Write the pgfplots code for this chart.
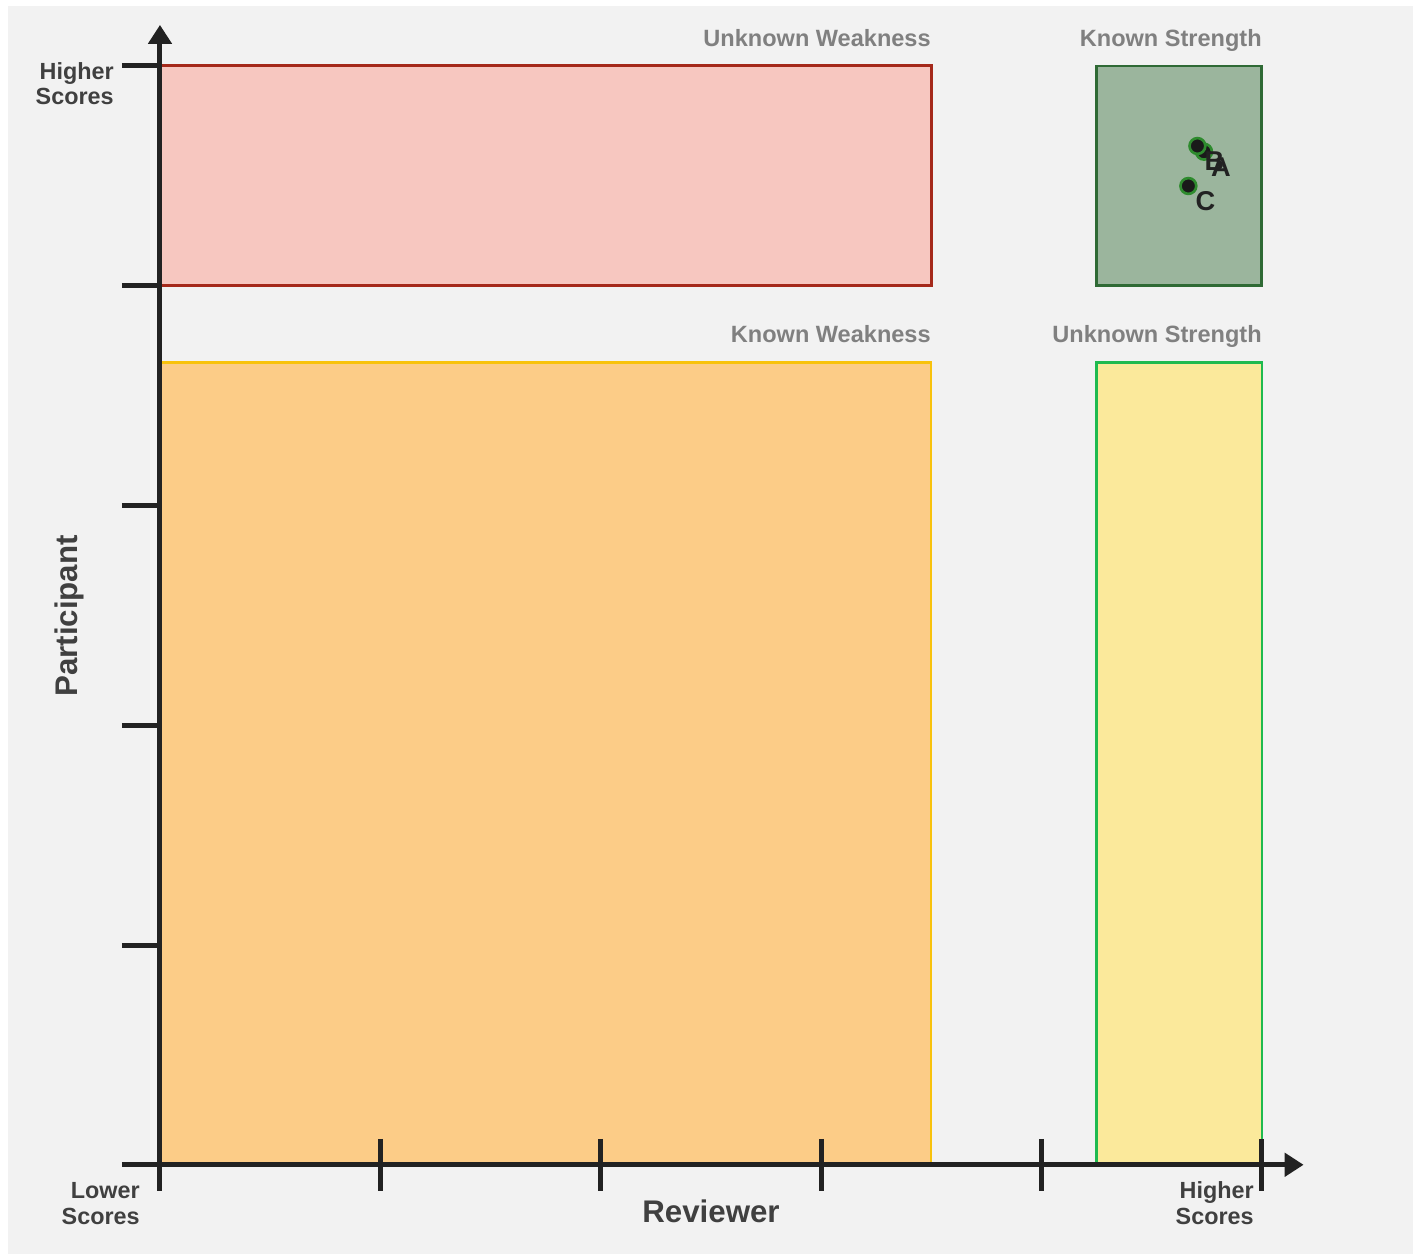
\documentclass[border=0pt]{standalone}
\usepackage{fontspec}
\setmainfont{Liberation Sans}
\usepackage{pgfplots}
\pgfplotsset{compat=1.18}
\usetikzlibrary{arrows.meta}
\definecolor{bg}{HTML}{F2F2F2}
\definecolor{redfill}{HTML}{F7C7C0}
\definecolor{reddraw}{HTML}{A5291B}
\definecolor{greenfill}{HTML}{9BB59D}
\definecolor{greendraw}{HTML}{2F6A35}
\definecolor{orangefill}{HTML}{FCCC87}
\definecolor{orangedraw}{HTML}{F8C20C}
\definecolor{yellowfill}{HTML}{FBE99B}
\definecolor{yellowdraw}{HTML}{1FBA4F}
\definecolor{axisc}{HTML}{222222}
\definecolor{qlab}{HTML}{808080}
\definecolor{tlab}{HTML}{404040}
\definecolor{ptfill}{HTML}{1A1A1A}
\definecolor{ptdraw}{HTML}{2E8B2E}
\begin{document}
\begin{tikzpicture}
\begin{scope}[x=0.02cm,y=-0.02cm]
\fill[white] (0,0) rectangle (1423,1255);
\fill[bg] (8,6) rectangle (1413,1254);
\end{scope}
\begin{axis}[
  at={(3.2cm,-23.3cm)}, anchor=south west, scale only axis,
  width=22.04cm, height=21.98cm,
  xmin=0, xmax=5, ymin=0, ymax=5,
  clip=false,
  axis line style={draw=none},
  xmajorticks=false,
  ytick={0,1,2,3,4,5}, yticklabels={},
  ytick pos=left,
  tick align=outside,
  major tick length=0.76cm,
  tick style={line width=0.1cm, color=axisc, line cap=butt},
]
% quadrant rectangles
\addplot[fill=redfill, draw=reddraw, line width=0.06cm] coordinates {(0,4) (3.5,4) (3.5,5) (0,5)} -- cycle;
\addplot[fill=greenfill, draw=greendraw, line width=0.055cm] coordinates {(4.25,4) (5,4) (5,5) (4.25,5)} -- cycle;
\addplot[fill=orangefill, draw=orangedraw, line width=0.05cm] coordinates {(0,0) (3.5,0) (3.5,3.65) (0,3.65)} -- cycle;
\addplot[fill=yellowfill, draw=yellowdraw, line width=0.05cm] coordinates {(4.25,0) (5,0) (5,3.65) (4.25,3.65)} -- cycle;
% axis lines
\draw[line width=0.1cm, color=axisc, -{Triangle[length=0.38cm,width=0.46cm]}] (axis cs:0,0) -- (axis cs:5.19,0);
\draw[line width=0.1cm, color=axisc, -{Triangle[length=0.38cm,width=0.46cm]}] (axis cs:0,0) -- (axis cs:0,5.187);
% x ticks (centred on the axis line)
\pgfplotsinvokeforeach{0,1,2,3,4,5}{
  \draw[line width=0.1cm, color=axisc] (axis cs:#1,0) ++(0,0.52cm) -- ++(0,-1.04cm);
}
% points
\addplot[only marks, mark=*, mark size=4.5pt,
  mark options={fill=ptfill, draw=ptdraw, line width=1.5pt},
  point meta=explicit symbolic,
  nodes near coords,
  nodes near coords style={anchor=center, xshift=0.34cm, yshift=-0.30cm,
    font=\bfseries\fontsize{15.5}{18}\selectfont, text=axisc, inner sep=0pt},
] table[meta=label] {
x y label
4.738 4.610 A
4.708 4.636 B
4.667 4.454 C
};
\end{axis}
\begin{scope}[x=0.02cm,y=-0.02cm]
% quadrant titles
\begin{scope}[every node/.style={inner sep=0pt, anchor=base east, text=qlab, font=\bfseries\fontsize{13.4}{16}\selectfont}]
\node at (931,46) {Unknown Weakness};
\node at (1262,46) {Known Strength};
\node at (931,342.5) {Known Weakness};
\node at (1262,342.5) {Unknown Strength};
\end{scope}
% end-of-axis labels
\begin{scope}[every node/.style={inner sep=0pt, anchor=base east, text=tlab, font=\bfseries\fontsize{13.3}{16}\selectfont}]
\node at (114,79) {Higher};
\node at (114,104) {Scores};
\node at (140,1198) {Lower};
\node at (140,1224) {Scores};
\node at (1254,1198) {Higher};
\node at (1254,1224) {Scores};
\end{scope}
% axis titles
\node[inner sep=0pt, anchor=base, text=tlab, font=\bfseries\fontsize{17.8}{21}\selectfont] at (711,1222) {Reviewer};
\node[inner sep=0pt, anchor=base, rotate=90, text=tlab, font=\bfseries\fontsize{17.8}{21}\selectfont] at (77,616) {Participant};
\end{scope}
\end{tikzpicture}
\end{document}
